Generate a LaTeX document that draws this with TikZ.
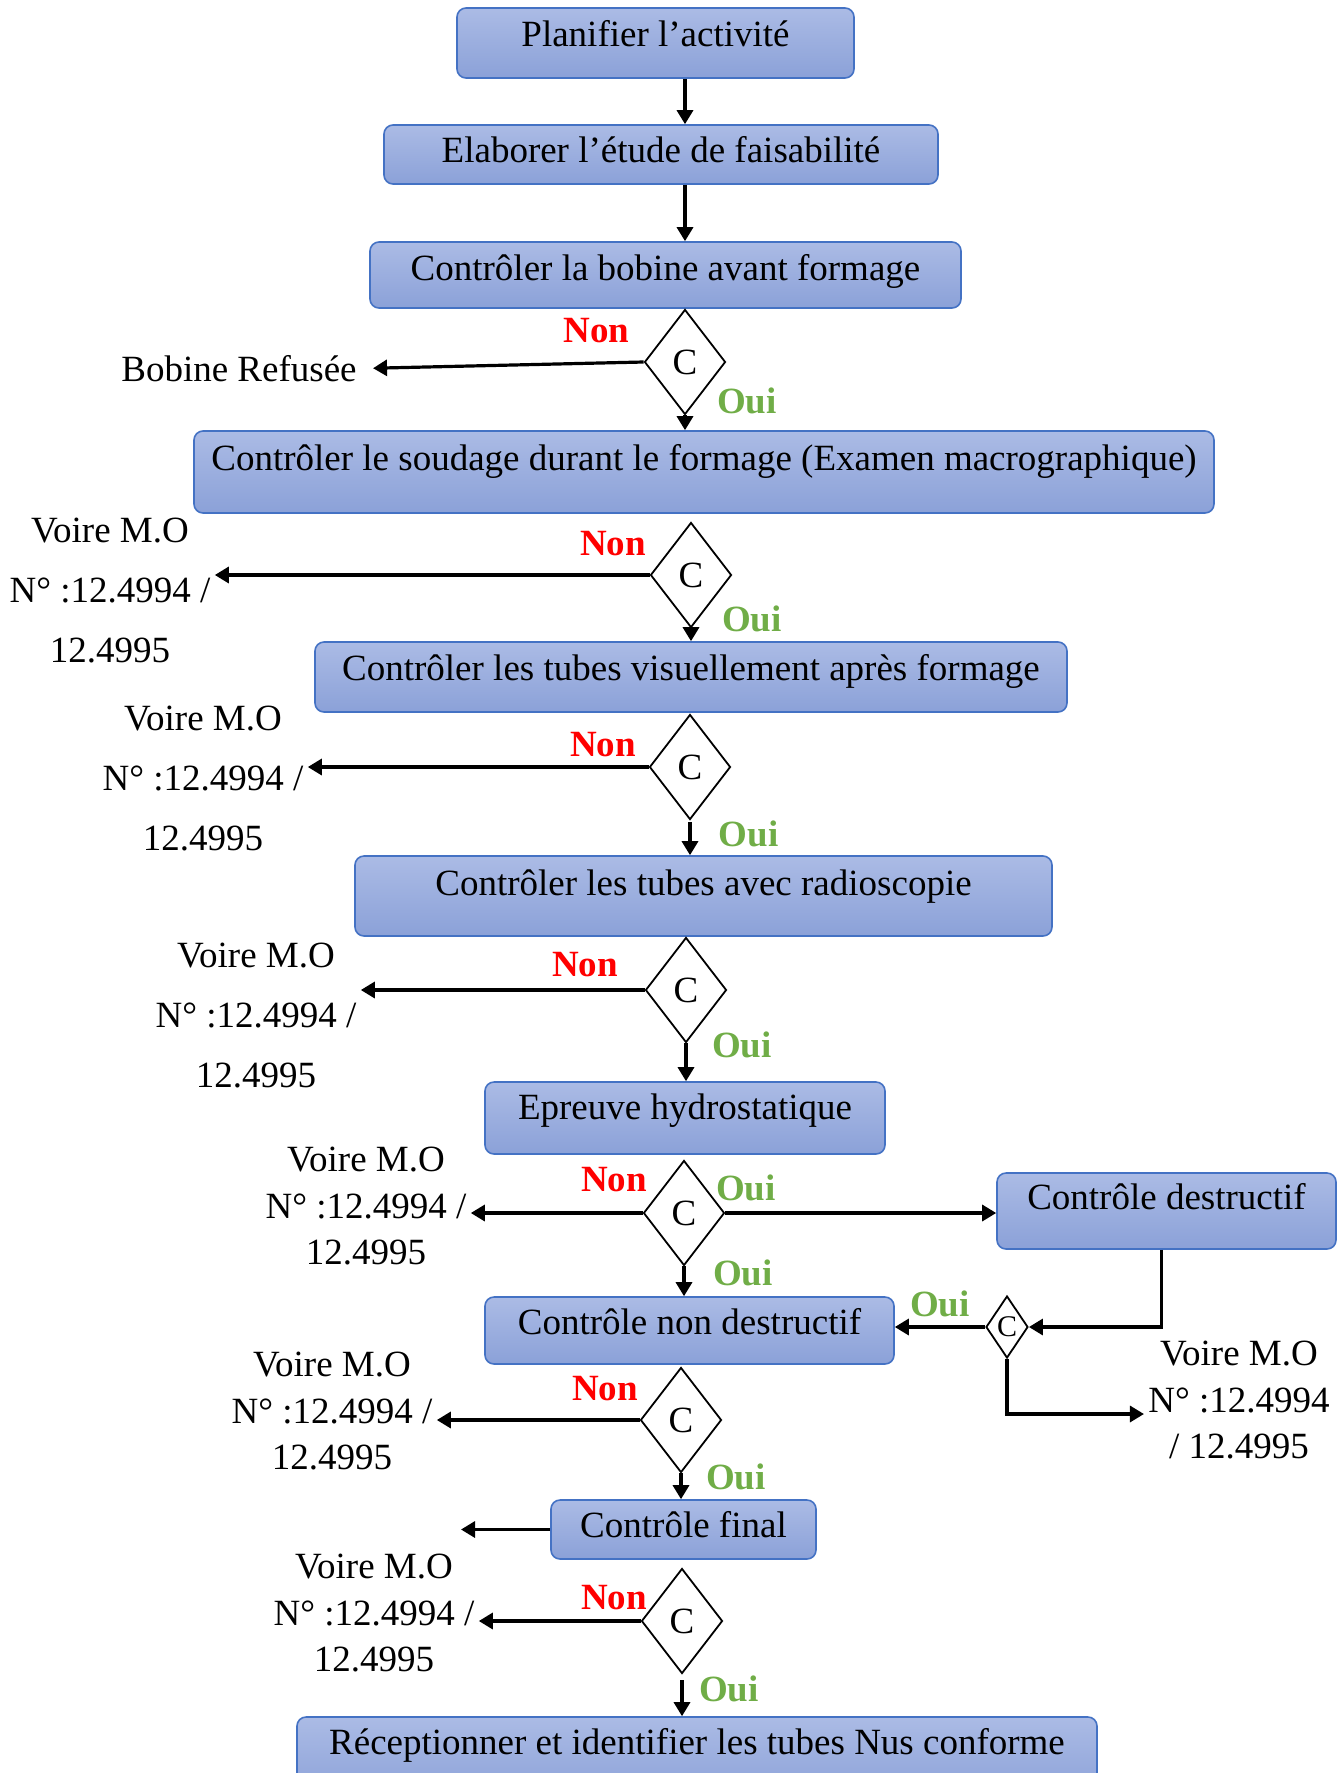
\documentclass[tikz,border=0pt]{standalone}
\usepackage{fontspec}
\setmainfont{Liberation Serif}
\usepackage{tikz}
\usetikzlibrary{shapes.geometric,arrows.meta,positioning,calc}
\definecolor{bleuBord}{RGB}{68,114,196}
\definecolor{bleuHaut}{RGB}{171,187,229}
\definecolor{bleuBas}{RGB}{139,161,216}
\definecolor{rougeNon}{RGB}{255,0,0}
\definecolor{vertOui}{RGB}{112,173,71}
\newcommand{\taille}{\fontsize{18.5}{22}\selectfont}

\tikzset{
  etape/.style={draw=bleuBord, line width=0.8pt, rounded corners=4.5pt,
                top color=bleuHaut, bottom color=bleuBas, inner sep=2pt,
                text height=13pt, text depth=#1},
  etape/.default=5pt,
  test/.style={draw, diamond, line width=0.9pt, inner sep=0pt,
               minimum width=40.5pt, minimum height=52.5pt},
  fleche/.style={-{Triangle[length=7pt,width=8pt]}, line width=1.6pt},
  non/.style={text=rougeNon, font=\taille\bfseries},
  oui/.style={text=vertOui, font=\taille\bfseries},
  renvoi/.style={align=center, inner sep=2pt, font=\fontsize{18.5}{23.25}\selectfont},
  renvoiLarge/.style={renvoi, font=\fontsize{18.5}{30}\selectfont}
}

\begin{document}
\begin{tikzpicture}[x=0.5pt, y=-0.5pt, font=\taille]
\useasboundingbox (0,0) rectangle (1341,1773);

\node[etape=10pt, minimum width=198.5pt, minimum height=35pt] (planif) at (655.5,43) {Planifier l’activité};
\node[etape=5pt, minimum width=277pt, minimum height=29.5pt] (etude) at (661,154.5) {Elaborer l’étude de faisabilité};
\node[etape=8pt, minimum width=295.5pt, minimum height=33pt] (bobine) at (665.5,275) {Contrôler la bobine avant formage};
\node[etape=15pt, minimum width=510pt, minimum height=41pt] (soudage) at (704,472) {Contrôler le soudage durant le formage (Examen macrographique)};
\node[etape=10pt, minimum width=376pt, minimum height=35pt] (visuel) at (691,677) {Contrôler les tubes visuellement après formage};
\node[etape=14pt, minimum width=348.5pt, minimum height=40pt] (radio) at (703.5,896) {Contrôler les tubes avec radioscopie};
\node[etape=12pt, minimum width=200pt, minimum height=36pt] (hydro) at (685,1118) {Epreuve hydrostatique};
\node[etape=14.5pt, minimum width=169.5pt, minimum height=38pt] (destr) at (1166.5,1211) {Contrôle destructif};
\node[etape=9.5pt, minimum width=204.5pt, minimum height=33.5pt] (nondestr) at (689.5,1330.5) {Contrôle non destructif};
\node[etape=5.5pt, minimum width=132.5pt, minimum height=29.5pt] (final) at (683.5,1529.5) {Contrôle final};
\node[etape=17.5pt, minimum width=400pt, minimum height=41.5pt] (recep) at (697,1758.5) {Réceptionner et identifier les tubes Nus conforme};

\node[test] (t1) at (685,362) {C};
\node[test] (t2) at (691,575) {C};
\node[test] (t3) at (690,767) {C};
\node[test] (t4) at (686,990) {C};
\node[test] (t5) at (684,1213) {C};
\node[test, minimum width=21pt, minimum height=31pt, font=\fontsize{15}{15}\selectfont] (tdestr) at (1007,1327) {C};
\node[test] (t6) at (681,1420) {C};
\node[test] (t7) at (682,1621) {C};

\node[non] (non1) at (596.5,331) {Non};
\node[non] (non2) at (613,544) {Non};
\node[non] (non3) at (603,745) {Non};
\node[non] (non4) at (585,964.5) {Non};
\node[non] (non5) at (614,1180) {Non};
\node[non] (non6) at (605,1388.5) {Non};
\node[non] (non7) at (614,1598) {Non};

\node[oui] (oui1) at (747,401) {Oui};
\node[oui] (oui2) at (752,618.5) {Oui};
\node[oui] (oui3) at (748.5,834) {Oui};
\node[oui] (oui4) at (742,1045) {Oui};
\node[oui] (oui5) at (746,1188) {Oui};
\node[oui] (oui6) at (743,1273) {Oui};
\node[oui] (oui7) at (940,1304) {Oui};
\node[oui] (oui8) at (736,1477) {Oui};
\node[oui] (oui9) at (729,1689) {Oui};

\node[renvoi] (refus) at (239,368.5) {Bobine Refusée};
\node[renvoiLarge] (v2) at (110,591) {Voire M.O\\N° :12.4994 /\\12.4995};
\node[renvoiLarge] (v3) at (203,779) {Voire M.O\\N° :12.4994 /\\12.4995};
\node[renvoiLarge] (v4) at (256,1015) {Voire M.O\\N° :12.4994 /\\12.4995};
\node[renvoi] (v5) at (366,1206) {Voire M.O\\N° :12.4994 /\\12.4995};
\node[renvoi] (v6) at (332,1411) {Voire M.O\\N° :12.4994 /\\12.4995};
\node[renvoi] (v7) at (374,1613) {Voire M.O\\N° :12.4994 /\\12.4995};
\node[renvoi] (v8) at (1239,1400) {Voire M.O\\N° :12.4994\\/ 12.4995};
\coordinate (sortie) at (461,1532);

\draw[fleche] (planif.south -| t1) -- (etude.north -| t1);
\draw[fleche] (etude.south -| t1) -- (bobine.north -| t1);
\draw[fleche, shorten >=6pt] (t1.west) -- (refus.east);
\draw[fleche] (t1.south) -- (t1.south |- soudage.north);
\draw[fleche] (t2.west) -- (t2.west -| v2.east);
\draw[fleche] (t2.south) -- (t2.south |- visuel.north);
\draw[fleche] (t3.west) -- (t3.west -| v3.east);
\draw[fleche, shorten <=1pt] (t3.south) -- (t3.south |- radio.north);
\draw[fleche] (t4.west) -- (t4.west -| v4.east);
\draw[fleche] (t4.south) -- (t4.south |- hydro.north);
\draw[fleche] (t5.west) -- (t5.west -| v5.east);
\draw[fleche] (t5.east) -- (t5.east -| destr.west);
\draw[fleche] (t5.south) -- (t5.south |- nondestr.north);
\draw[fleche] ([xshift=-2.5pt]destr.south) |- (tdestr.east);
\draw[fleche] (tdestr.west) -- (tdestr.west -| nondestr.east);
\draw[fleche] (tdestr.south) |- ([yshift=-7pt]v8.west);
\draw[fleche] (t6.west) -- (t6.west -| v6.east);
\draw[fleche] (t6.south) -- (t6.south |- final.north);
\draw[fleche] (final.west) -- (final.west -| sortie);
\draw[fleche] (t7.west) -- (t7.west -| v7.east);
\draw[fleche, shorten <=3pt] (t7.south) -- (t7.south |- recep.north);

\end{tikzpicture}
\end{document}
